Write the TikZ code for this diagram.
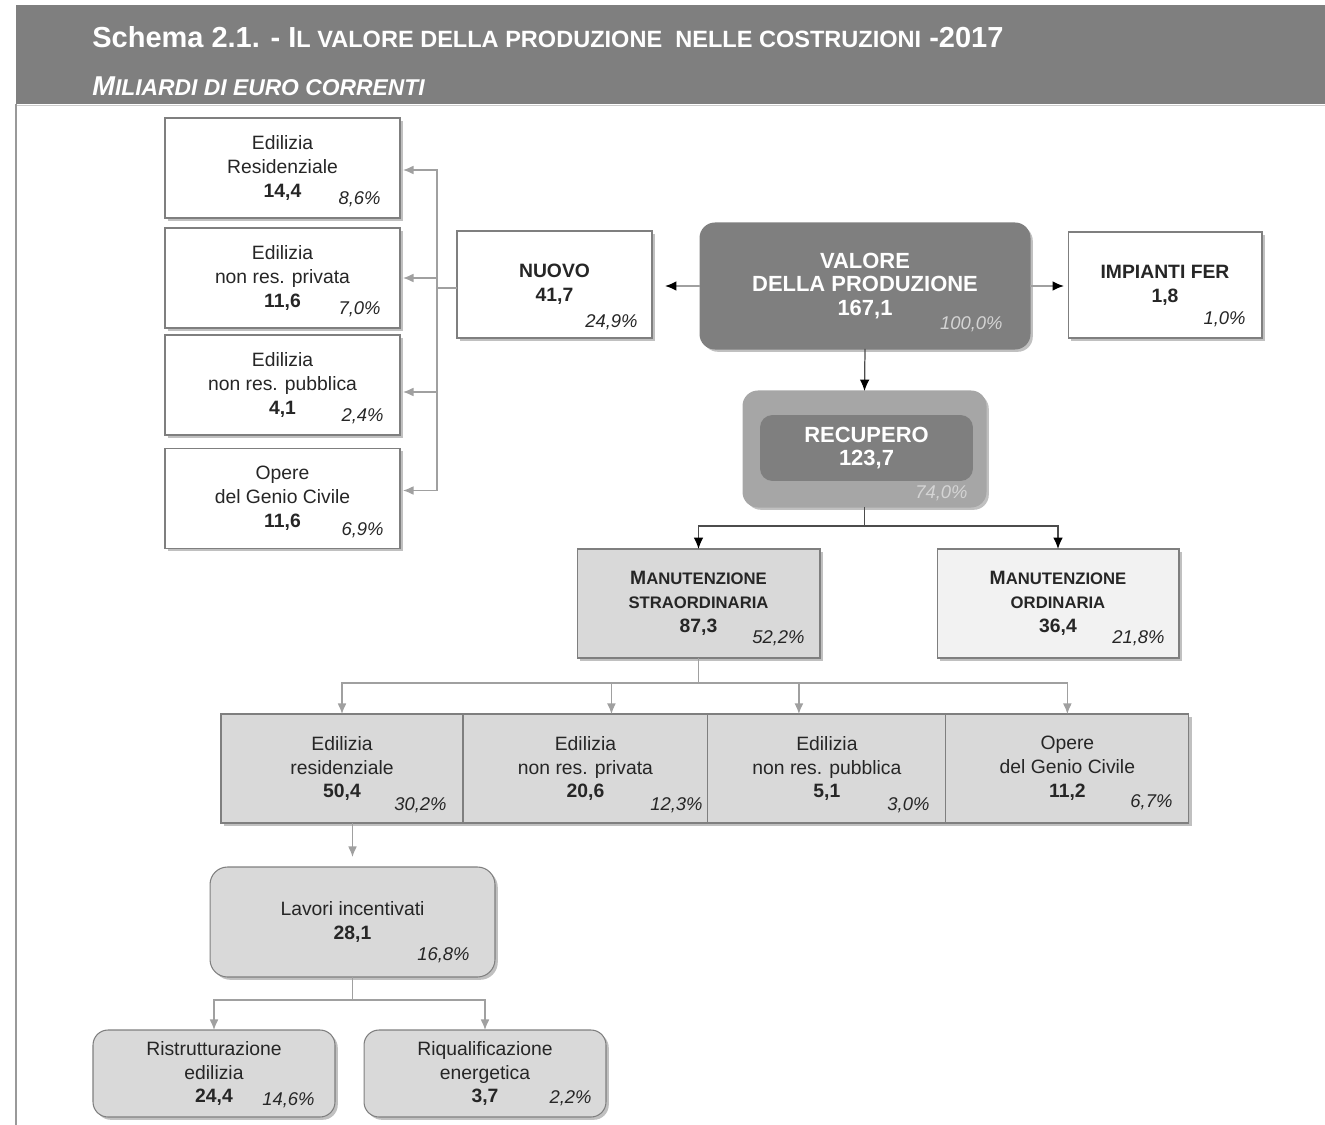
\documentclass[tikz,border=0pt]{standalone}
\usepackage{fontspec}
\setmainfont{Liberation Sans}
\usetikzlibrary{arrows.meta, positioning, calc, shadows}
\definecolor{bandgray}{HTML}{7F7F7F}
\definecolor{boxborder}{HTML}{7F7F7F}
\definecolor{linegray}{HTML}{A0A0A0}
\definecolor{fillmid}{HTML}{D9D9D9}
\definecolor{filllight}{HTML}{F2F2F2}
\definecolor{recouter}{HTML}{A6A6A6}
\definecolor{txtdark}{HTML}{262626}
\definecolor{pctlight}{HTML}{D4D4D4}

\newcommand{\boxfont}{\fontsize{11}{13.6}\selectfont}
\newcommand{\bigfont}{\fontsize{12.5}{13.4}\selectfont}
\newcommand{\pctfont}{\fontsize{10.5}{12}\selectfont\itshape}
\newcommand{\capsfont}{\fontsize{9.5}{14.5}\selectfont}

\begin{document}
\begin{tikzpicture}[x=0.02cm, y=-0.02cm,
    box/.style={draw=boxborder, fill=white, line width=0.6pt, outer sep=0pt,
      inner sep=0pt, align=center, text=txtdark, font=\boxfont,
      drop shadow={shadow xshift=1.6pt, shadow yshift=-1.6pt,
        fill=black!45, opacity=0.55}},
    lbox/.style={box, minimum width=4.7cm, minimum height=2cm},
    rowbox/.style={box, fill=fillmid, minimum height=2.18cm},
    pct/.style={font=\pctfont, text=txtdark, anchor=east, inner sep=0pt},
    dline/.style={draw=black!70, line width=0.7pt},
    darrow/.style={dline, -{Latex[length=6.5pt, width=5.5pt, color=black]}},
    gline/.style={draw=linegray, line width=0.7pt},
    garrow/.style={gline, -{Latex[length=6pt, width=5pt]}},
    sidearrow/.style={gline, line width=1pt,
      -{Latex[length=6.5pt, width=5.5pt, color=black]}}
  ]
  \useasboundingbox (0,0) rectangle (1325,1125);

  % header
  \fill[bandgray] (16,5) rectangle (1325,104);
  \draw[black!20, line width=1pt] (16,105.5) -- (1325,105.5);
  \draw[black!40, line width=1.2pt] (16,104) -- (16,1125);
  \node[anchor=base west, inner sep=0pt, text=white,
    font=\bfseries\fontsize{16.5}{18}\selectfont] (title) at (92,48)
    {Schema 2.1. - I{\fontsize{13.4}{14}\selectfont L VALORE DELLA PRODUZIONE\ \ NELLE COSTRUZIONI} -2017};
  \node[anchor=base west, inner sep=0pt, text=white,
    font=\bfseries\itshape\fontsize{15.5}{17}\selectfont] (subtitle) at (92,96)
    {M{\fontsize{13}{14}\selectfont ILIARDI DI EURO CORRENTI}};

  % nuovo: left column
  \node[lbox] (le1) at (282.5,168) {Edilizia\\Residenziale\\\textbf{14,4}};
  \node[lbox] (le2) at (282.5,278) {Edilizia\\non res. privata\\\textbf{11,6}};
  \node[lbox] (le3) at (282.5,385) {Edilizia\\non res. pubblica\\\textbf{4,1}};
  \node[lbox] (le4) at (282.5,498.5) {Opere\\del Genio Civile\\\textbf{11,6}};
  \node[pct] (le1p) at ($(le1.south east)+(-19,-19)$) {8,6\%};
  \node[pct] (le2p) at ($(le2.south east)+(-19,-19)$) {7,0\%};
  \node[pct] (le3p) at ($(le3.south east)+(-16,-19)$) {2,4\%};
  \node[pct] (le4p) at ($(le4.south east)+(-16,-18)$) {6,9\%};

  % top row
  \node[box, minimum width=3.9cm, minimum height=2.14cm, font=\boxfont\bfseries]
    (nuovo) at (554.5,284.5) {NUOVO\\41,7};
  \node[box, fill=bandgray, draw=bandgray, rounded corners=0.3cm, text=white,
    minimum width=6.6cm, minimum height=2.52cm, font=\bigfont\bfseries]
    (valore) at (865,286) {VALORE\\DELLA PRODUZIONE\\167,1};
  \node[box, minimum width=3.88cm, minimum height=2.12cm, font=\boxfont\bfseries]
    (impianti) at (1165,285) {IMPIANTI FER\\1,8};
  \node[pct] (nuovop) at ($(nuovo.south east)+(-14,-16)$) {24,9\%};
  \node[pct, text=pctlight] (valorep) at ($(valore.south east)+(-27,-25)$) {100,0\%};
  \node[pct] (impiantip) at ($(impianti.south east)+(-16,-19)$) {1,0\%};

  % recupero
  \node[box, fill=recouter, draw=black!35, rounded corners=0.3cm,
    minimum width=4.86cm, minimum height=2.32cm] (recupero) at (864.5,449) {};
  \node[fill=bandgray, rounded corners=0.25cm, minimum width=4.26cm,
    minimum height=1.32cm, inner sep=0pt, align=center, text=white,
    font=\bigfont\bfseries] (recinner) at (866.5,448) {RECUPERO\\123,7};
  \node[pct, text=pctlight] (recuperop) at ($(recupero.south east)+(-18,-14)$) {74,0\%};

  % manutenzione
  \node[box, fill=fillmid, minimum width=4.86cm, minimum height=2.18cm,
    font=\boxfont\bfseries] (ms) at (698.5,603.5)
    {M{\capsfont ANUTENZIONE}\\{\capsfont STRAORDINARIA}\\87,3};
  \node[box, fill=filllight, minimum width=4.84cm, minimum height=2.18cm,
    font=\boxfont\bfseries] (mo) at (1058,603.5)
    {M{\capsfont ANUTENZIONE}\\{\capsfont ORDINARIA}\\36,4};
  \node[pct] (msp) at ($(ms.south east)+(-15,-20)$) {52,2\%};
  \node[pct] (mop) at ($(mo.south east)+(-14,-20)$) {21,8\%};

  % straordinaria: split
  \node[rowbox, minimum width=4.84cm] (r1) at (342,768.5)
    {Edilizia\\residenziale\\\textbf{50,4}};
  \node[rowbox, minimum width=4.9cm, right=0pt of r1] (r2)
    {Edilizia\\non res. privata\\\textbf{20,6}};
  \node[rowbox, minimum width=4.76cm, right=0pt of r2] (r3)
    {Edilizia\\non res. pubblica\\\textbf{5,1}};
  \node[rowbox, minimum width=4.86cm, right=0pt of r3] (r4)
    {Opere\\del Genio Civile\\\textbf{11,2}};
  \node[pct] (r1p) at ($(r1.south east)+(-16,-18)$) {30,2\%};
  \node[pct] (r2p) at ($(r2.south east)+(-5,-18)$) {12,3\%};
  \node[pct] (r3p) at ($(r3.south east)+(-16,-18)$) {3,0\%};
  \node[pct] (r4p) at ($(r4.south east)+(-16,-21)$) {6,7\%};

  % incentivati
  \node[box, fill=fillmid, rounded corners=0.35cm, minimum width=5.7cm,
    minimum height=2.2cm] (lavori) at (352.5,922)
    {Lavori incentivati\\\textbf{28,1}};
  \node[box, fill=fillmid, rounded corners=0.3cm, minimum width=4.84cm,
    minimum height=1.74cm] (ristr) at (214,1073.5)
    {Ristrutturazione\\edilizia\\\textbf{24,4}};
  \node[box, fill=fillmid, rounded corners=0.3cm, minimum width=4.84cm,
    minimum height=1.74cm] (riqual) at (485,1073.5)
    {Riqualificazione\\energetica\\\textbf{3,7}};
  \node[pct] (lavorip) at ($(lavori.south east)+(-25,-22)$) {16,8\%};
  \node[pct] (ristrp) at ($(ristr.south east)+(-20,-17)$) {14,6\%};
  \node[pct] (riqualp) at ($(riqual.south east)+(-14,-19)$) {2,2\%};

  % connectors
  \draw[sidearrow, shorten >=0.26cm] (valore.west) -- (valore.west -| nuovo.east);
  \draw[sidearrow, shorten >=0.08cm] (valore.east) -- (valore.east -| impianti.west);
  \draw[darrow] (valore.south) -- (recupero.north);
  \draw[dline] (recupero.south) -- ++(0,19) coordinate (recbus);
  \draw[darrow] (recbus) -| (ms.north);
  \draw[darrow] (recbus) -| (mo.north);

  \coordinate (brk) at (437,288);
  \draw[gline] (nuovo.west |- brk) -- (brk);
  \draw[garrow, shorten >=0.06cm] (brk) |- ($(le1.east)+(0,2)$);
  \draw[garrow, shorten >=0.06cm] (brk) |- (le2.east);
  \draw[garrow, shorten >=0.06cm] (brk) |- ($(le3.east)+(0,7)$);
  \draw[garrow, shorten >=0.06cm] (brk) |- ($(le4.east)+(0,-8)$);

  \draw[gline] (ms.south) -- ++(0,25) coordinate (msbus);
  \draw[garrow] (msbus) -| (r1.north);
  \draw[garrow] (msbus) -| ($(r2.north)+(26,0)$);
  \draw[garrow] (msbus) -| ($(r3.north)+(-28,0)$);
  \draw[garrow] (msbus) -| (r4.north);

  \draw[garrow, shorten >=0.2cm] (lavori.north |- r1.south) -- (lavori.north);
  \draw[gline] (lavori.south) -- ++(0,23) coordinate (lavbus);
  \draw[garrow] (lavbus) -| (ristr.north);
  \draw[garrow] (lavbus) -| (riqual.north);
\end{tikzpicture}
\end{document}
